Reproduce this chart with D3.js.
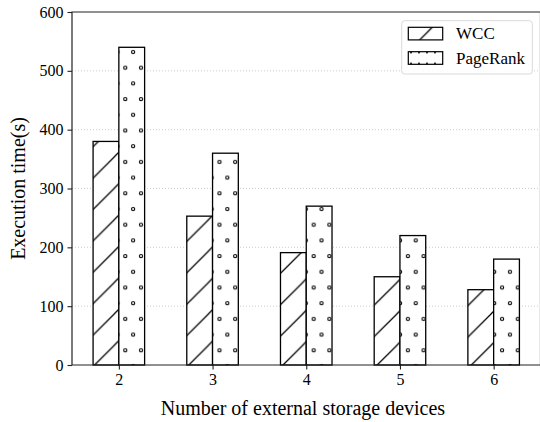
<!DOCTYPE html>
<html>
<head>
<meta charset="utf-8">
<script src="https://cdn.jsdelivr.net/npm/d3@7"></script>
<style>
  html, body { margin: 0; padding: 0; background: #fff; }
  svg { display: block; }
  text { font-family: "Liberation Serif", "Times New Roman", serif; fill: #000; }
</style>
</head>
<body>
<svg id="chart" width="540" height="422"></svg>
<script>
// Execution time per number of external storage devices
const devices = [2, 3, 4, 5, 6];
const wccTimes = [380, 253, 191, 150, 128];
const pageRankTimes = [540, 360, 270, 220, 180];
const seriesNames = ["WCC", "PageRank"];
const yTicks = [0, 100, 200, 300, 400, 500, 600];
const xLabel = "Number of external storage devices";
const yLabel = "Execution time(s)";

const plot = { left: 72, right: 540.5, top: 12, bottom: 365 };
const barWidth = 0.275;

const svg = d3.select("#chart");

const x = d3.scaleLinear().domain([1.5, 6.5]).range([plot.left, plot.right]);
const y = d3.scaleLinear().domain([0, 600]).range([plot.bottom, plot.top]);

// Hatch patterns
const defs = svg.append("defs");
const P = 31.4;
const diag = defs.append("pattern")
  .attr("id", "hatchDiag")
  .attr("patternUnits", "userSpaceOnUse")
  .attr("x", 20).attr("y", 0)
  .attr("width", P).attr("height", P);
diag.append("rect").attr("width", P).attr("height", P).attr("fill", "#fff");
diag.append("path")
  .attr("d", `M0,${P} L${P},0 M-2,2 L2,-2 M${P - 2},${P + 2} L${P + 2},${P - 2}`)
  .attr("stroke", "#000").attr("stroke-width", 1.25).attr("fill", "none");

const dots = defs.append("pattern")
  .attr("id", "hatchDots")
  .attr("patternUnits", "userSpaceOnUse")
  .attr("x", 125.3 - 4).attr("y", 224.7 - 4)
  .attr("width", P / 2).attr("height", P);
dots.append("rect").attr("width", P / 2).attr("height", P).attr("fill", "#fff");
[[4, 4], [4 + P / 4, 4 + P / 2]].forEach(([cx, cy]) => {
  dots.append("circle").attr("cx", cx).attr("cy", cy).attr("r", 1.6)
    .attr("fill", "#fff").attr("stroke", "#000").attr("stroke-width", 1.1);
});

const legendDots = defs.append("pattern")
  .attr("id", "legendDots")
  .attr("patternUnits", "userSpaceOnUse")
  .attr("x", 407).attr("y", 51.7)
  .attr("width", 8).attr("height", 12.6);
legendDots.append("rect").attr("width", 8).attr("height", 12.6).attr("fill", "#fff");
[[4, 0.8], [4, 11.8]].forEach(([cx, cy]) => {
  legendDots.append("circle").attr("cx", cx).attr("cy", cy).attr("r", 1).attr("fill", "#000");
});

// Grid lines
svg.append("g")
  .selectAll("line")
  .data(yTicks.filter(t => t > 0 && t < 600))
  .join("line")
  .attr("x1", plot.left).attr("x2", plot.right)
  .attr("y1", d => y(d)).attr("y2", d => y(d))
  .attr("stroke", "#c8c8c8").attr("stroke-width", 0.9)
  .attr("stroke-dasharray", "1,2");

// Bars
const bars = svg.append("g");
const rows = devices.map((d, i) => ({ d, wcc: wccTimes[i], pr: pageRankTimes[i] }));
bars.selectAll("rect.wcc")
  .data(rows).join("rect").attr("class", "wcc")
  .attr("x", r => x(r.d - barWidth))
  .attr("width", r => x(r.d) - x(r.d - barWidth))
  .attr("y", r => y(r.wcc))
  .attr("height", r => y(0) - y(r.wcc))
  .attr("fill", "url(#hatchDiag)")
  .attr("stroke", "#000").attr("stroke-width", 1.3);
bars.selectAll("rect.pr")
  .data(rows).join("rect").attr("class", "pr")
  .attr("x", r => x(r.d))
  .attr("width", r => x(r.d + barWidth) - x(r.d))
  .attr("y", r => y(r.pr))
  .attr("height", r => y(0) - y(r.pr))
  .attr("fill", "url(#hatchDots)")
  .attr("stroke", "#000").attr("stroke-width", 1.3);

// Axes
const yAxis = svg.append("g")
  .attr("transform", `translate(${plot.left},0)`)
  .call(d3.axisLeft(y).tickValues(yTicks).tickSize(4.5).tickPadding(4).tickSizeOuter(0));
const xAxis = svg.append("g")
  .attr("transform", `translate(0,${plot.bottom})`)
  .call(d3.axisBottom(x).tickValues(devices).tickFormat(d3.format("d")).tickSize(4.5).tickPadding(4).tickSizeOuter(0));
[yAxis, xAxis].forEach(g => {
  g.attr("font-family", null).attr("font-size", null);
  g.selectAll("text").style("font-family", '"Liberation Serif", serif').style("font-size", "16px").attr("fill", "#000");
  g.selectAll("line").attr("stroke", "#222").attr("stroke-width", 1.1);
  g.select(".domain").remove();
});

// Frame
svg.append("path")
  .attr("d", `M${plot.left},${plot.bottom} L${plot.left},${plot.top} L${plot.right},${plot.top}
              M${plot.left},${plot.bottom} L${plot.right},${plot.bottom}
              M${plot.right},${plot.top} L${plot.right},${plot.bottom}`)
  .attr("fill", "none").attr("stroke", "#222").attr("stroke-width", 1.2);

// Axis titles
svg.append("text")
  .attr("x", 303).attr("y", 415)
  .attr("text-anchor", "middle")
  .style("font-size", "20px")
  .text(xLabel);
svg.append("text")
  .attr("transform", `translate(25,${(plot.top + plot.bottom) / 2}) rotate(-90)`)
  .attr("text-anchor", "middle")
  .style("font-size", "20px")
  .text(yLabel);

// Legend
const lg = svg.append("g");
lg.append("rect")
  .attr("x", 401.7).attr("y", 20.7).attr("width", 130.6).attr("height", 53.3)
  .attr("rx", 3).attr("fill", "#fff").attr("fill-opacity", 0.85)
  .attr("stroke", "#d9d9d9").attr("stroke-width", 1);
const legendFills = ["url(#hatchDiag)", "url(#legendDots)"];
const legendY = [27.3, 51.7];
seriesNames.forEach((name, i) => {
  lg.append("rect")
    .attr("x", 408.3).attr("y", legendY[i]).attr("width", 34.4).attr("height", 12.6)
    .attr("fill", legendFills[i]).attr("stroke", "#000").attr("stroke-width", 1.2);
  lg.append("text")
    .attr("x", 456).attr("y", legendY[i] + 12)
    .style("font-size", "17px")
    .text(name);
});
</script>
</body>
</html>
